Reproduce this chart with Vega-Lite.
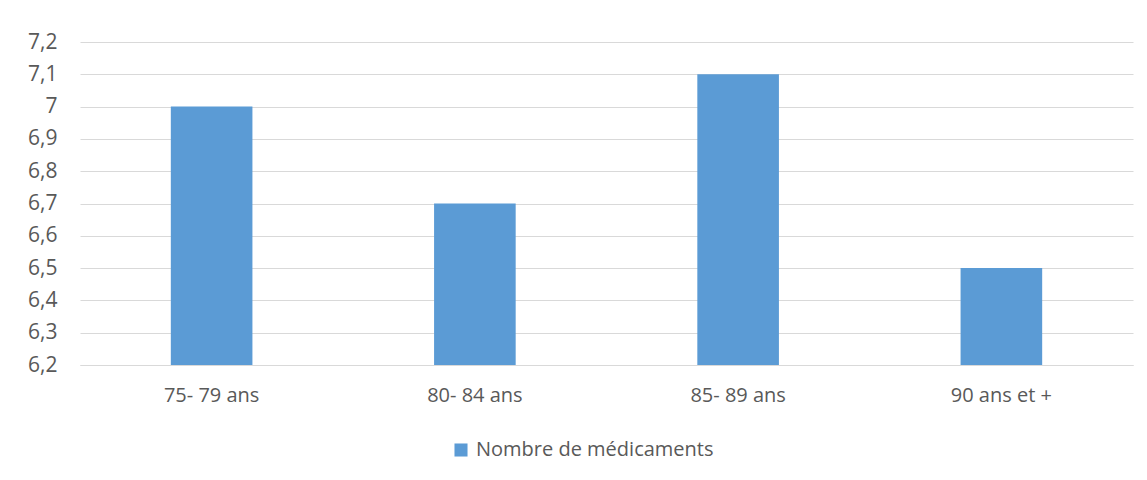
{
  "$schema": "https://vega.github.io/schema/vega-lite/v6.json",
  "width": 1053,
  "height": 323,
  "autosize": {"type": "none"},
  "padding": {"left": 80, "top": 42, "right": 14, "bottom": 115},
  "background": "white",
  "config": {
    "view": {"stroke": null},
    "font": "Open Sans"
  },
  "data": {
    "values": [
      {"age": "75- 79 ans", "valeur": 7.0, "serie": "Nombre de médicaments"},
      {"age": "80- 84 ans", "valeur": 6.7, "serie": "Nombre de médicaments"},
      {"age": "85- 89 ans", "valeur": 7.1, "serie": "Nombre de médicaments"},
      {"age": "90 ans et +", "valeur": 6.5, "serie": "Nombre de médicaments"}
    ]
  },
  "mark": {"type": "bar", "clip": true},
  "encoding": {
    "x": {
      "field": "age",
      "type": "nominal",
      "sort": null,
      "title": null,
      "scale": {"paddingInner": 0.69, "paddingOuter": 0.345},
      "axis": {"labelAngle": 0, "ticks": false, "domainColor": "#d9d9d9", "domainWidth": 1, "labelPadding": 20, "labelFontSize": 20, "labelColor": "#595959", "labelFont": "Open Sans"}
    },
    "y": {
      "field": "valeur",
      "type": "quantitative",
      "title": null,
      "scale": {"domain": [6.2, 7.2], "zero": false, "nice": false},
      "axis": {
        "values": [6.2, 6.3, 6.4, 6.5, 6.6, 6.7, 6.8, 6.9, 7.0, 7.1, 7.2],
        "labelExpr": "replace(format(datum.value, '.1~f'), '.', ',')",
        "domain": false,
        "ticks": false,
        "gridColor": "#d9d9d9",
        "gridWidth": 1,
        "labelPadding": 23,
        "labelFontSize": 21,
        "labelColor": "#595959",
        "labelFont": "Open Sans"
      }
    },
    "y2": {"datum": 6.2},
    "color": {
      "field": "serie",
      "type": "nominal",
      "scale": {"range": ["#5b9bd5"]},
      "legend": {
        "title": null,
        "orient": "none",
        "legendX": 371,
        "legendY": 398,
        "symbolType": "square",
        "symbolSize": 170,
        "symbolStrokeWidth": 0,
        "labelFontSize": 20,
        "labelLimit": 500,
        "labelOffset": 5,
        "labelColor": "#595959",
        "labelFont": "Open Sans"
      }
    }
  }
}
